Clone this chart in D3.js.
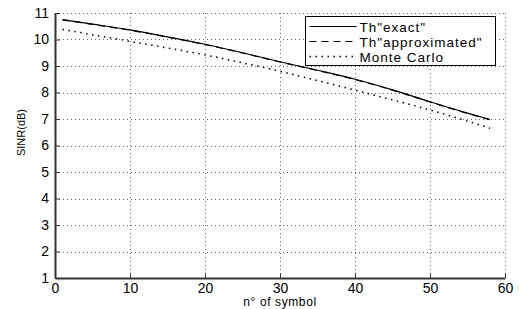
<!DOCTYPE html>
<html>
<head>
<meta charset="utf-8">
<script src="https://cdn.jsdelivr.net/npm/d3@7"></script>
<style>
  body { margin: 0; background: #fff; }
  text { font-family: 'Liberation Sans', Arial, sans-serif; }
</style>
</head>
<body>
<div id="chart"></div>
<script>
// symbol index where values were read
const symbols = [1, 5, 10, 15, 20, 25, 30, 35, 40, 45, 50, 55, 58];
const thExact = [10.75, 10.58, 10.36, 10.10, 9.82, 9.50, 9.16, 8.84, 8.50, 8.10, 7.65, 7.22, 6.98];
const thApprox = [10.74, 10.57, 10.35, 10.09, 9.81, 9.49, 9.15, 8.83, 8.49, 8.09, 7.64, 7.21, 6.97];
const monteCarlo = [10.38, 10.18, 9.93, 9.68, 9.42, 9.12, 8.80, 8.45, 8.09, 7.72, 7.34, 6.92, 6.65];
const xTicks = [0, 10, 20, 30, 40, 50, 60];
const yTicks = [1, 2, 3, 4, 5, 6, 7, 8, 9, 10, 11];
const seriesNames = ['Th"exact"', 'Th"approximated"', 'Monte Carlo'];

const margin = { top: 13, right: 16, bottom: 31, left: 55 };
const width = 521 - margin.left - margin.right;
const height = 309 - margin.top - margin.bottom;

const svg = d3.select('#chart')
  .append('svg')
  .attr('width', 521)
  .attr('height', 309);

const g = svg.append('g')
  .attr('transform', `translate(${margin.left},${margin.top})`);

const x = d3.scaleLinear().domain([0, 60]).range([0, width]);
const y = d3.scaleLinear().domain([1, 11]).range([height, 0]);

// dotted grid
g.append('g')
  .selectAll('line')
  .data(xTicks.slice(1))
  .join('line')
  .attr('x1', d => x(d) + 0.5).attr('x2', d => x(d) + 0.5)
  .attr('y1', 0).attr('y2', height)
  .attr('stroke', '#666')
  .attr('stroke-dasharray', '1,3');

g.append('g')
  .selectAll('line')
  .data(yTicks.slice(1))
  .join('line')
  .attr('y1', d => Math.round(y(d)) + 0.5).attr('y2', d => Math.round(y(d)) + 0.5)
  .attr('x1', 0).attr('x2', width)
  .attr('stroke', '#666')
  .attr('stroke-dasharray', '1,3');

// axes
const xAxis = d3.axisBottom(x).tickValues(xTicks).tickSizeInner(-5).tickSizeOuter(0).tickPadding(5);
const yAxis = d3.axisLeft(y).tickValues(yTicks).tickSizeInner(-5).tickSizeOuter(0).tickPadding(6);

const gx = g.append('g')
  .attr('transform', `translate(0,${height})`)
  .call(xAxis);
const gy = g.append('g').call(yAxis);

[gx, gy].forEach(a => {
  a.select('.domain').attr('stroke', '#333').attr('stroke-width', 2);
  a.selectAll('.tick line').attr('stroke', '#333');
  a.selectAll('.tick text')
    .attr('fill', '#000')
    .style('font-size', '14px')
    .style('font-family', "'Liberation Sans', Arial, sans-serif");
});

// axis titles
g.append('text')
  .attr('x', width / 2)
  .attr('y', height + 28)
  .attr('text-anchor', 'middle')
  .style('font-size', '12px')
  .style('letter-spacing', '0.6px')
  .text('n° of symbol');

g.append('text')
  .attr('transform', 'rotate(-90)')
  .attr('x', -height / 2 + 13)
  .attr('y', -30)
  .attr('text-anchor', 'middle')
  .style('font-size', '11px')
  .text('SINR(dB)');

// lines
const series = [
  { name: seriesNames[0], values: thExact, dash: null },
  { name: seriesNames[1], values: thApprox, dash: '7,5' },
  { name: seriesNames[2], values: monteCarlo, dash: '1.5,4.5' }
];

const line = d3.line()
  .x((d, i) => x(symbols[i]))
  .y(d => y(d))
  .curve(d3.curveMonotoneX);

g.selectAll('.series')
  .data(series)
  .join('path')
  .attr('class', 'series')
  .attr('d', d => line(d.values))
  .attr('fill', 'none')
  .attr('stroke', '#000')
  .attr('stroke-width', d => d.dash === '1.5,4.5' ? 1.5 : 1.2)
  .attr('stroke-dasharray', d => d.dash);

// legend
const legend = svg.append('g').attr('transform', 'translate(305.5,16.5)');
legend.append('rect')
  .attr('width', 190)
  .attr('height', 49)
  .attr('fill', '#fff')
  .attr('stroke', '#000');

const rows = legend.selectAll('.row')
  .data(series)
  .join('g')
  .attr('transform', (d, i) => `translate(0,${10 + i * 15})`);

rows.append('line')
  .attr('x1', 4).attr('x2', 51)
  .attr('stroke', '#000')
  .attr('stroke-width', d => d.dash === '1.5,4.5' ? 1.5 : 1.2)
  .attr('stroke-dasharray', d => d.dash);

rows.append('text')
  .attr('x', 54)
  .attr('y', 5)
  .style('font-size', '13.5px')
  .style('letter-spacing', '1px')
  .text(d => d.name);
</script>
</body>
</html>
